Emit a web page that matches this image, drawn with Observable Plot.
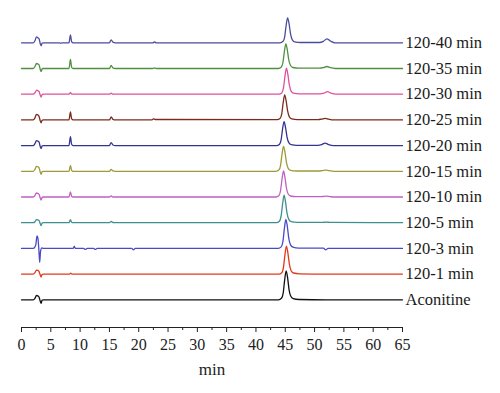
<!DOCTYPE html>
<html>
<head>
<meta charset="utf-8">
<script src="https://cdn.jsdelivr.net/npm/d3@7"></script>
<script src="https://cdn.jsdelivr.net/npm/@observablehq/plot@0.6"></script>
<style>
  html, body { margin: 0; padding: 0; background: #fff; }
  #chart g[aria-label="x-axis tick label"] { font-size: 16px; }
  #chart g[aria-label="x-axis tick label"] text { font-size: 16px; }
  #chart g[aria-label="x-axis label"] { font-size: 17px; }
  #chart g[aria-label="x-axis label"] text { font-size: 17px; }
</style>
</head>
<body>
<div id="chart"></div>
<script>
// Sample names, top to bottom
const samples = ["120-40 min", "120-35 min", "120-30 min", "120-25 min", "120-20 min",
                 "120-15 min", "120-10 min", "120-5 min", "120-3 min", "120-1 min", "Aconitine"];
const colors = ["#4b4b9e", "#4f8f3f", "#e0509a", "#7b2b1b", "#343490",
                "#9d9a3a", "#c060c0", "#3f8f8f", "#4a4ac8", "#e03a1e", "#111111"];
const xTicks = [0, 5, 10, 15, 20, 25, 30, 35, 40, 45, 50, 55, 60, 65];
const xMinorTicks = [2.5, 7.5, 12.5, 17.5, 22.5, 27.5, 32.5, 37.5, 42.5, 47.5, 52.5, 57.5, 62.5];

// Chromatograms: [time (min), signal]
const trace_120_40 = [[0,0],[2.0,0],[2.3,2],[2.55,6],[2.8,5],[3.0,4],[3.2,-1],[3.35,-3],[3.5,-0.5],[3.7,0],
  [6.5,0],[6.7,-0.5],[6.9,0],[8.1,0],[8.35,8],[8.55,1.2],[8.8,0],[15.0,0],[15.3,3],[15.6,0.6],[16.0,0],
  [22.4,0],[22.7,0.8],[23.0,0],[44.1,0],[44.6,1.2],[44.9,6],[45.15,17.5],[45.4,25],[45.65,19],[45.9,9],[46.2,3],[46.6,1],[47.6,0.3],
  [50.8,0.3],[51.5,1.5],[52.1,4],[52.7,1.8],[53.5,0],[65,0]];
const trace_120_35 = [[0,0],[2.0,0],[2.3,2],[2.55,5],[2.8,4.5],[3.0,3.5],[3.2,-1],[3.35,-3],[3.5,-0.5],[3.7,0],
  [8.1,0],[8.35,9],[8.55,1.3],[8.8,0],[15.0,0],[15.3,3],[15.6,0.6],[16.0,0],
  [22.4,0],[22.7,0.5],[23.0,0],[43.8,0],[44.3,1.2],[44.6,6],[44.85,17],[45.1,24.5],[45.35,18.5],[45.6,8.5],[45.9,3],[46.3,1],[47.3,0.3],
  [50.8,0.3],[51.5,0.8],[52.1,2],[52.7,0.8],[53.5,0],[65,0]];
const trace_120_30 = [[0,0],[2.0,0],[2.3,1.5],[2.6,4],[2.8,3.5],[3.0,2.5],[3.2,-1],[3.35,-3],[3.5,-0.5],[3.7,0],
  [8.1,0],[8.35,1.5],[8.6,0],[15.0,0],[15.3,1],[15.6,0],
  [43.9,0],[44.4,1.3],[44.7,6.5],[44.95,18],[45.2,26],[45.45,19.5],[45.7,9],[46.0,3],[46.4,1],[47.4,0.3],
  [50.9,0.3],[51.6,1],[52.2,2.5],[52.8,1],[53.6,0],[65,0]];
const trace_120_25 = [[0,0],[2.0,0],[2.3,2],[2.55,5.5],[2.8,5],[3.0,3.5],[3.2,-1],[3.35,-3],[3.5,-0.5],[3.7,0],
  [8.1,0],[8.35,8],[8.55,1.2],[8.8,0],[15.0,0],[15.3,3],[15.6,0.6],[16.0,0],
  [22.2,0],[22.5,1],[22.8,0.4],[43.6,0.3],[44.1,1.4],[44.4,6],[44.65,17.5],[44.9,25],[45.15,19],[45.4,9],[45.7,3],[46.1,1],[47.1,0.3],
  [50.6,0.3],[51.2,0.8],[51.8,1.5],[52.4,0.7],[53.2,0],[65,0]];
const trace_120_20 = [[0,0],[2.0,0],[2.3,2],[2.55,5],[2.8,4.5],[3.0,3.5],[3.2,-1],[3.35,-3],[3.5,-0.5],[3.7,0],
  [8.1,0],[8.35,9],[8.55,1.3],[8.8,0],[15.0,0],[15.3,3],[15.6,0.6],[16.0,0],
  [43.5,0],[44.0,1.2],[44.3,6],[44.55,17],[44.8,24],[45.05,18],[45.3,8.5],[45.6,3],[46.0,1],[47.0,0.3],
  [50.6,0.3],[51.2,1],[51.8,2.5],[52.4,1],[53.2,0],[65,0]];
const trace_120_15 = [[0,0],[2.0,0],[2.3,2],[2.55,5],[2.8,4.5],[3.0,3.5],[3.2,-1],[3.35,-3],[3.5,-0.5],[3.7,0],
  [8.1,0],[8.35,6],[8.55,1],[8.8,0],[15.0,0],[15.3,2],[15.6,0.4],[16.0,0],
  [43.4,0],[43.9,1.2],[44.2,6],[44.45,17.5],[44.7,25],[44.95,19],[45.2,9],[45.5,3],[45.9,1],[46.9,0.3],
  [50.7,0.3],[51.3,0.7],[51.9,1.2],[52.5,0.6],[53.3,0],[65,0]];
const trace_120_10 = [[0,0],[2.0,0],[2.3,1.5],[2.55,4],[2.8,3.5],[3.0,2.5],[3.2,-1],[3.35,-3],[3.5,-0.5],[3.7,0],
  [8.1,0],[8.35,5],[8.55,0.8],[8.8,0],[15.0,0],[15.3,1],[15.6,0],
  [43.4,0],[43.9,1.3],[44.2,6.5],[44.45,18],[44.7,26],[44.95,19.5],[45.2,9],[45.5,3],[45.9,1],[46.9,0.3],
  [50.8,0.3],[51.4,0.5],[52.0,0.8],[52.6,0.4],[53.4,0],[65,0]];
const trace_120_5 = [[0,0],[2.0,0],[2.3,1],[2.55,3],[2.8,2.8],[3.0,2],[3.2,-1],[3.35,-3],[3.5,-0.5],[3.7,0],
  [8.1,0],[8.35,3],[8.55,0.5],[8.8,0],[15.0,0],[15.3,1.2],[15.6,0.2],[16.0,0],
  [43.5,0],[44.0,1.4],[44.3,7],[44.55,19],[44.8,27.5],[45.05,20.5],[45.3,9.5],[45.6,3.3],[46.0,1.1],[47.0,0.3],
  [51.4,0.3],[52.0,0.6],[52.6,0.3],[65,0]];
const trace_120_3 = [[0,0],[2.0,0],[2.25,1],[2.45,4],[2.65,12.5],[2.8,10],[2.95,0],[3.1,-14],[3.25,-3],[3.45,0.5],[3.7,0],
  [8.8,0],[9.0,2],[9.2,0],[10.6,0],[10.9,-1],[11.2,0],[12.3,0],[12.6,-1],[12.9,0],
  [18.8,0],[19.1,-1.5],[19.4,0],[43.8,0],[44.3,1.5],[44.6,7],[44.85,20],[45.1,29],[45.35,22],[45.6,10],[45.9,3.5],[46.3,1.2],[47.3,0.3],
  [51.5,0.2],[51.9,-1.5],[52.3,0],[65,0]];
const trace_120_1 = [[0,0],[2.0,0],[2.3,1.5],[2.55,4],[2.8,3.8],[3.0,2.5],[3.2,-1],[3.35,-3],[3.5,-0.5],[3.7,0],
  [8.2,0],[8.4,1],[8.6,0],
  [43.9,0],[44.4,1.4],[44.7,7],[44.95,19.5],[45.2,28],[45.45,21],[45.7,10],[46.0,3.4],[46.4,1.1],[47.4,0.3],[52,0],[65,0]];
const trace_aconitine = [[0,0],[2.0,0],[2.3,1.5],[2.55,4.3],[2.8,4],[3.0,2.5],[3.2,-1.5],[3.35,-3.5],[3.5,-0.5],[3.7,0],
  [43.85,0],[44.35,1.5],[44.65,7],[44.9,20],[45.15,29],[45.4,22],[45.65,10],[45.95,3.5],[46.35,1.2],[47.35,0.3],[52,0],[65,0]];

const traces = [trace_120_40, trace_120_35, trace_120_30, trace_120_25, trace_120_20,
                trace_120_15, trace_120_10, trace_120_5, trace_120_3, trace_120_1, trace_aconitine];

// Vertical stacking (offset between chromatograms)
const spacing = 25.7;
const n = samples.length;
const rows = traces.flatMap((pts, i) =>
  pts.map(([t, v]) => ({sample: samples[i], t, y: v + (n - 1 - i) * spacing})));
const labels = samples.map((s, i) => ({sample: s, t: xTicks[xTicks.length - 1], y: (n - 1 - i) * spacing}));

const yMin = -27.7;

const chart = Plot.plot({
  width: 500,
  height: 393,
  marginLeft: 21,
  marginRight: 98,
  marginTop: 10,
  marginBottom: 66,
  style: {fontFamily: "'Liberation Serif', 'DejaVu Serif', serif", fontSize: "16px", background: "#fff", color: "#222"},
  x: {domain: [xTicks[0], xTicks[xTicks.length - 1]]},
  y: {domain: [yMin, 289.3], axis: null},
  color: {domain: samples, range: colors},
  marks: [
    Plot.ruleY([yMin], {stroke: "#222", strokeWidth: 1}),
    Plot.axisX({ticks: xMinorTicks, tickSize: 3, text: null, label: null, stroke: "#222"}),
    Plot.axisX({ticks: xTicks, tickSize: 5, tickPadding: 6, fontSize: 16, stroke: "#222", fill: "#222", label: null}),
    Plot.axisX({ticks: [], tickSize: 0, fontSize: 17, fill: "#222",
                label: "min", labelAnchor: "center", labelArrow: "none", labelOffset: 47}),
    Plot.lineY(rows, {x: "t", y: "y", z: "sample", stroke: "sample", strokeWidth: 1.3, curve: "monotone-x"}),
    Plot.text(labels, {x: "t", y: "y", text: "sample", textAnchor: "start", dx: 3, fontSize: 16.5, fill: "#1a1a1a"})
  ]
});
document.getElementById("chart").appendChild(chart);
</script>
</body>
</html>
